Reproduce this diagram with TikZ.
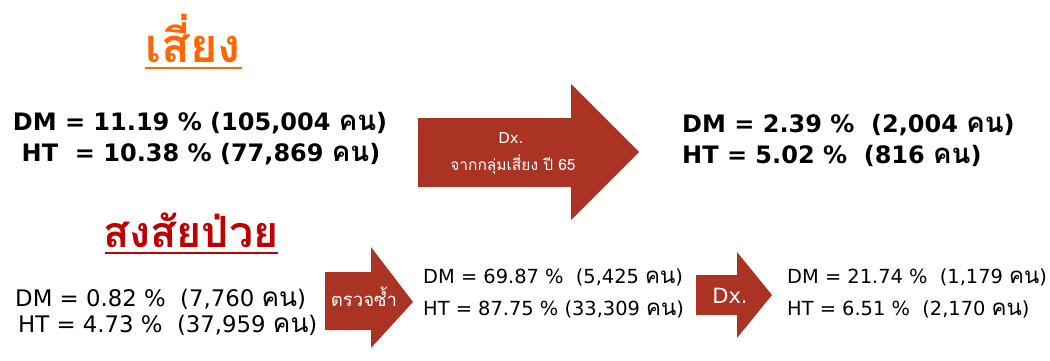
\documentclass[tikz,border=0pt]{standalone}
\usepackage{fontspec}
\setmainfont{DejaVu Sans}
\newfontfamily\thaifont[Script=Thai]{Loma}
\newfontfamily\konfont[Script=Thai,Scale=1.15]{Loma}
\definecolor{arrowred}{RGB}{170,51,36}
\definecolor{riskorange}{RGB}{255,102,0}
\definecolor{suspred}{RGB}{192,0,0}
\newcommand\kon{\smash{\konfont คน}}
\begin{document}
\begin{tikzpicture}[x=1pt,y=-1pt,
  txt/.style={inner sep=0pt,anchor=base west},
  big/.style={txt,font=\fontsize{24}{28}\selectfont\bfseries},
  mid/.style={txt,font=\fontsize{22.8}{24}\selectfont},
  small/.style={txt,font=\fontsize{19.4}{21}\selectfont},
  arr/.style={fill=arrowred,draw=none},
  head/.style={inner sep=0pt,anchor=base,font=\thaifont\bfseries}]
\useasboundingbox (0,0) rectangle (1050,361);
% headings
\node[head,text=riskorange,font=\thaifont\bfseries\fontsize{47}{52}\selectfont] (risk) at (193,63) {เสี่ยง};
\draw[riskorange,line width=2pt] (145,68) -- (242,68);
\node[head,text=suspred,font=\thaifont\bfseries\fontsize{43}{48}\selectfont] (susp) at (191,247) {สงสัยป่วย};
\draw[suspred,line width=2pt] (105,253) -- (278,253);
% top-left
\node[big,anchor=base] (dm1) at (200,130) {DM = 11.19 \% (105,004 \kon)};
\node[big,anchor=base] (ht1) at (201,161) {HT\ \ = 10.38 \% (77,869 \kon)};
% big arrow
\fill[arr] (418,118) -- (571,118) -- (571,84) -- (639,152) -- (571,220) -- (571,187) -- (418,187) -- cycle;
\node[inner sep=0pt,text=white,font=\fontsize{15}{17}\selectfont,anchor=base] (dx1) at (511,143) {Dx.};
\node[inner sep=0pt,text=white,font=\thaifont\fontsize{15.5}{17}\selectfont,anchor=base] (from) at (513,170) {จากกลุ่มเสี่ยง ปี 65};
% top-right
\node[big] (dm2) at (682,132) {DM = 2.39 \%\ \ (2,004 \kon)};
\node[big] (ht2) at (682,163) {HT = 5.02 \%\ \ (816 \kon)};
% bottom-left
\node[mid] (dm3) at (15,306) {DM = 0.82 \%\ \ (7,760 \kon)};
\node[mid] (ht3) at (18,332) {HT = 4.73 \%\ \ (37,959 \kon)};
% small arrow 1
\fill[arr] (325,272) -- (371,272) -- (371,247) -- (413,302) -- (371,348) -- (371,330) -- (325,330) -- cycle;
\node[inner sep=0pt,text=white,font=\thaifont\fontsize{18.5}{20}\selectfont,anchor=base] (recheck) at (364,306) {ตรวจซ้ำ};
% bottom-middle
\node[small] (dm4) at (423,283) {DM = 69.87 \%\ \ (5,425 \kon)};
\node[small] (ht4) at (423,315) {HT = 87.75 \% (33,309 \kon)};
% small arrow 2
\fill[arr] (696,275) -- (737,275) -- (737,252) -- (772,295) -- (737,338) -- (737,315) -- (696,315) -- cycle;
\node[inner sep=0pt,text=white,font=\fontsize{21}{24}\selectfont,anchor=base] (dx2) at (730,303) {Dx.};
% bottom-right
\node[small] (dm5) at (787,283) {DM = 21.74 \%\ \ (1,179 \kon)};
\node[small] (ht5) at (787,315) {HT = 6.51 \%\ \ (2,170 \kon)};
\end{tikzpicture}
\end{document}
